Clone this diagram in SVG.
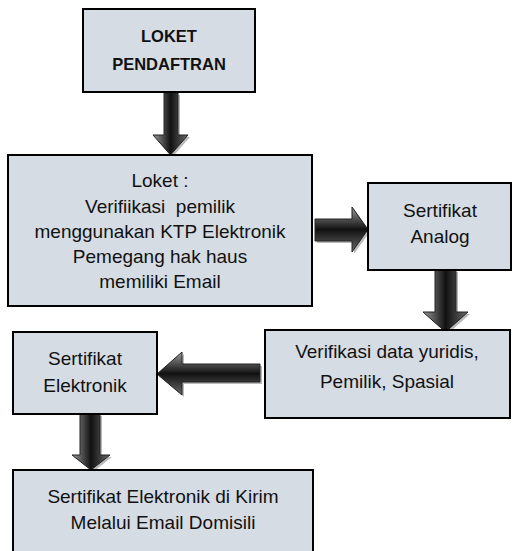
<svg xmlns="http://www.w3.org/2000/svg" width="513" height="551" viewBox="0 0 513 551">
<defs>
<linearGradient id="gv" x1="0" y1="0" x2="1" y2="0">
<stop offset="0" stop-color="#9a9a9a"/><stop offset="0.5" stop-color="#111"/><stop offset="1" stop-color="#6a6a6a"/>
</linearGradient>
<linearGradient id="gh" x1="0" y1="0" x2="0" y2="1">
<stop offset="0" stop-color="#9a9a9a"/><stop offset="0.5" stop-color="#111"/><stop offset="1" stop-color="#6a6a6a"/>
</linearGradient>
</defs>
<style>
.box{fill:#d6dce4;stroke:#000;stroke-width:2}
.t{font-family:"Liberation Sans",Arial,sans-serif;font-size:19px;fill:#111;text-anchor:middle;white-space:pre}
.b{font-weight:bold;font-size:16.5px}
.sh{fill:#8c8c8c;opacity:0.6}
.av{fill:url(#gv);stroke:#222;stroke-width:1}
.ah{fill:url(#gh);stroke:#222;stroke-width:1}
</style>
<g id="connectors">
<polygon class="sh" points="166,95 180,95 180,137 190,137 172.5,157 155,137 166,137"/>
<polygon class="av" points="164,93 178,93 178,135 188,135 170.5,155 153,135 164,135"/>
<polygon class="sh" points="317,221 354,221 354,209 370,231.5 354,254 354,243 317,243"/>
<polygon class="ah" points="315,219 352,219 352,207 368,229.5 352,252 352,241 315,241"/>
<polygon class="sh" points="437,272 458,272 458,314 470,314 447.5,334 425,314 437,314"/>
<polygon class="av" points="435,270 456,270 456,312 468,312 445.5,332 423,312 435,312"/>
<polygon class="sh" points="262,366 184,366 184,354 159,376 184,397 184,384 262,384"/>
<polygon class="ah" points="260,364 182,364 182,352 157,374 182,395 182,382 260,382"/>
<polygon class="sh" points="82,416 102,416 102,457 112,457 93,472 74,457 82,457"/>
<polygon class="av" points="80,414 100,414 100,455 110,455 91,470 72,455 80,455"/>
</g>
<g id="loket-pendaftran">
<rect class="box" x="83" y="9" width="172" height="83"/>
<text class="t b" x="169" y="42">LOKET</text>
<text class="t b" x="169" y="70">PENDAFTRAN</text>
</g>
<g id="loket">
<rect class="box" x="8" y="155" width="304" height="151"/>
<text class="t" x="160" y="187">Loket :</text>
<text class="t" x="160" y="213" xml:space="preserve">Verifiikasi  pemilik</text>
<text class="t" x="160" y="238">menggunakan KTP Elektronik</text>
<text class="t" x="160" y="263">Pemegang hak haus</text>
<text class="t" x="160" y="288">memiliki Email</text>
</g>
<g id="sertifikat-analog">
<rect class="box" x="368" y="183" width="143" height="87"/>
<text class="t" x="440" y="217">Sertifikat</text>
<text class="t" x="440" y="243">Analog</text>
</g>
<g id="verifikasi-data">
<rect class="box" x="265" y="330" width="245" height="88"/>
<text class="t" x="387" y="358">Verifikasi data yuridis,</text>
<text class="t" x="387" y="388">Pemilik, Spasial</text>
</g>
<g id="sertifikat-elektronik">
<rect class="box" x="13" y="332" width="144" height="82"/>
<text class="t" x="85" y="365">Sertifikat</text>
<text class="t" x="85" y="392">Elektronik</text>
</g>
<g id="kirim-email">
<rect class="box" x="13" y="470" width="300" height="90"/>
<text class="t" x="163" y="503">Sertifikat Elektronik di Kirim</text>
<text class="t" x="163" y="529">Melalui Email Domisili</text>
</g>
</svg>
